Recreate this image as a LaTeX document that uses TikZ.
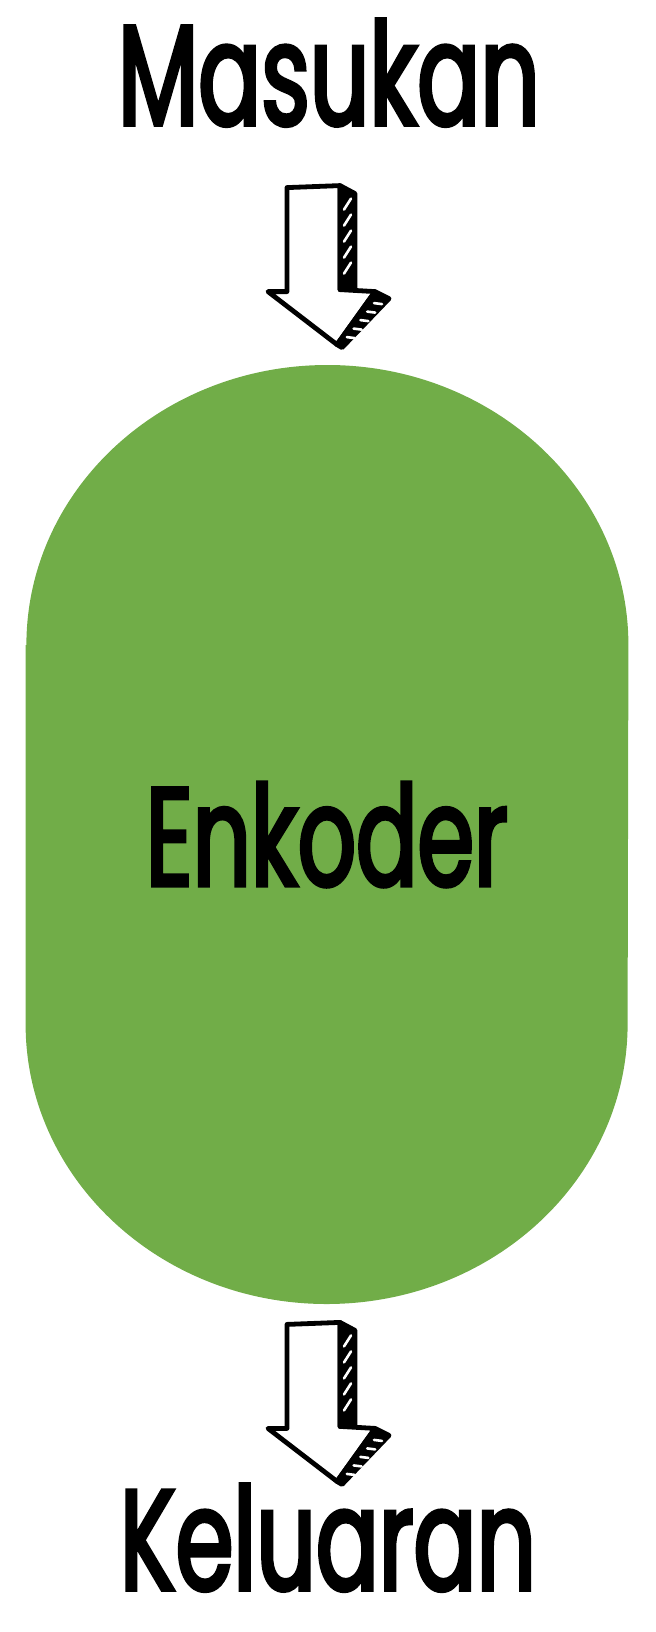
\documentclass[tikz,border=0pt]{standalone}
\usepackage{fontspec}
\newfontfamily\lblfont{Poppins}[FakeStretch=0.65,FakeBold=2.6]
\usetikzlibrary{calc,backgrounds}

\definecolor{encgreen}{HTML}{71AD48}

\tikzset{
  arrowline/.style={draw=black, line width=2.4pt, line join=round, line cap=round},
  sketcharrow/.pic={
    % front face
    \draw[arrowline, fill=white] (-33,78) -- (20,80) -- (20,-24) -- (55,-26) -- (17,-79)
      -- (-52,-26) -- (-33,-26) -- cycle;
    % shaded sides
    \draw[arrowline, fill=black] (20,80) -- (35,72) -- (35,-22) -- (20,-24) -- cycle;
    \draw[arrowline, fill=black] (55,-26) -- (69,-33) -- (22,-82) -- (17,-79) -- cycle;
    \foreach \y in {62,46,...,-2}
      \draw[white, line width=1.3pt, line cap=round] (24,\y-6) -- (31,\y+5);
    \foreach \t in {0.15,0.32,0.49,0.66,0.83}
      \draw[white, line width=1.3pt, line cap=round]
        ($(60,-30)!\t!(20,-80)$) -- ++(8,-1);
  }
}

\begin{document}
\begin{tikzpicture}[
  x=0.5pt, y=0.5pt,
  label/.style={font=\lblfont\fontsize{71.6}{80}\selectfont, inner sep=0pt,
    text height=52pt, text depth=0pt},
  encoder/.style={minimum width=301pt, minimum height=469.5pt, inner sep=0pt,
    font=\lblfont\fontsize{70}{80}\selectfont}
]
\useasboundingbox (0,0) rectangle (656,-1632);

% Nodes top to bottom
\node[label, anchor=base] (in) at (329,-125) {Masukan};
\node[encoder] (enc) at (327,-834.5) {Enkoder};
\node[label, anchor=base] (out) at (328,-1590) {Keluaran};

% Encoder body
\begin{scope}[on background layer]
\fill[encgreen] ($(enc.west)+(0,189.5)$) -- ($(enc.west)+(0,-189.5)$)
  arc[start angle=180, end angle=360, x radius=301, y radius=280]
  -- ($(enc.east)+(0,189.5)$)
  arc[start angle=0, end angle=180, x radius=301, y radius=280] -- cycle;
\end{scope}

% Arrows
\pic at ($(enc.north)+(-7,99)$) {sketcharrow};
\pic at ($(enc.south)+(-7,-98)$) {sketcharrow};

\end{tikzpicture}
\end{document}
